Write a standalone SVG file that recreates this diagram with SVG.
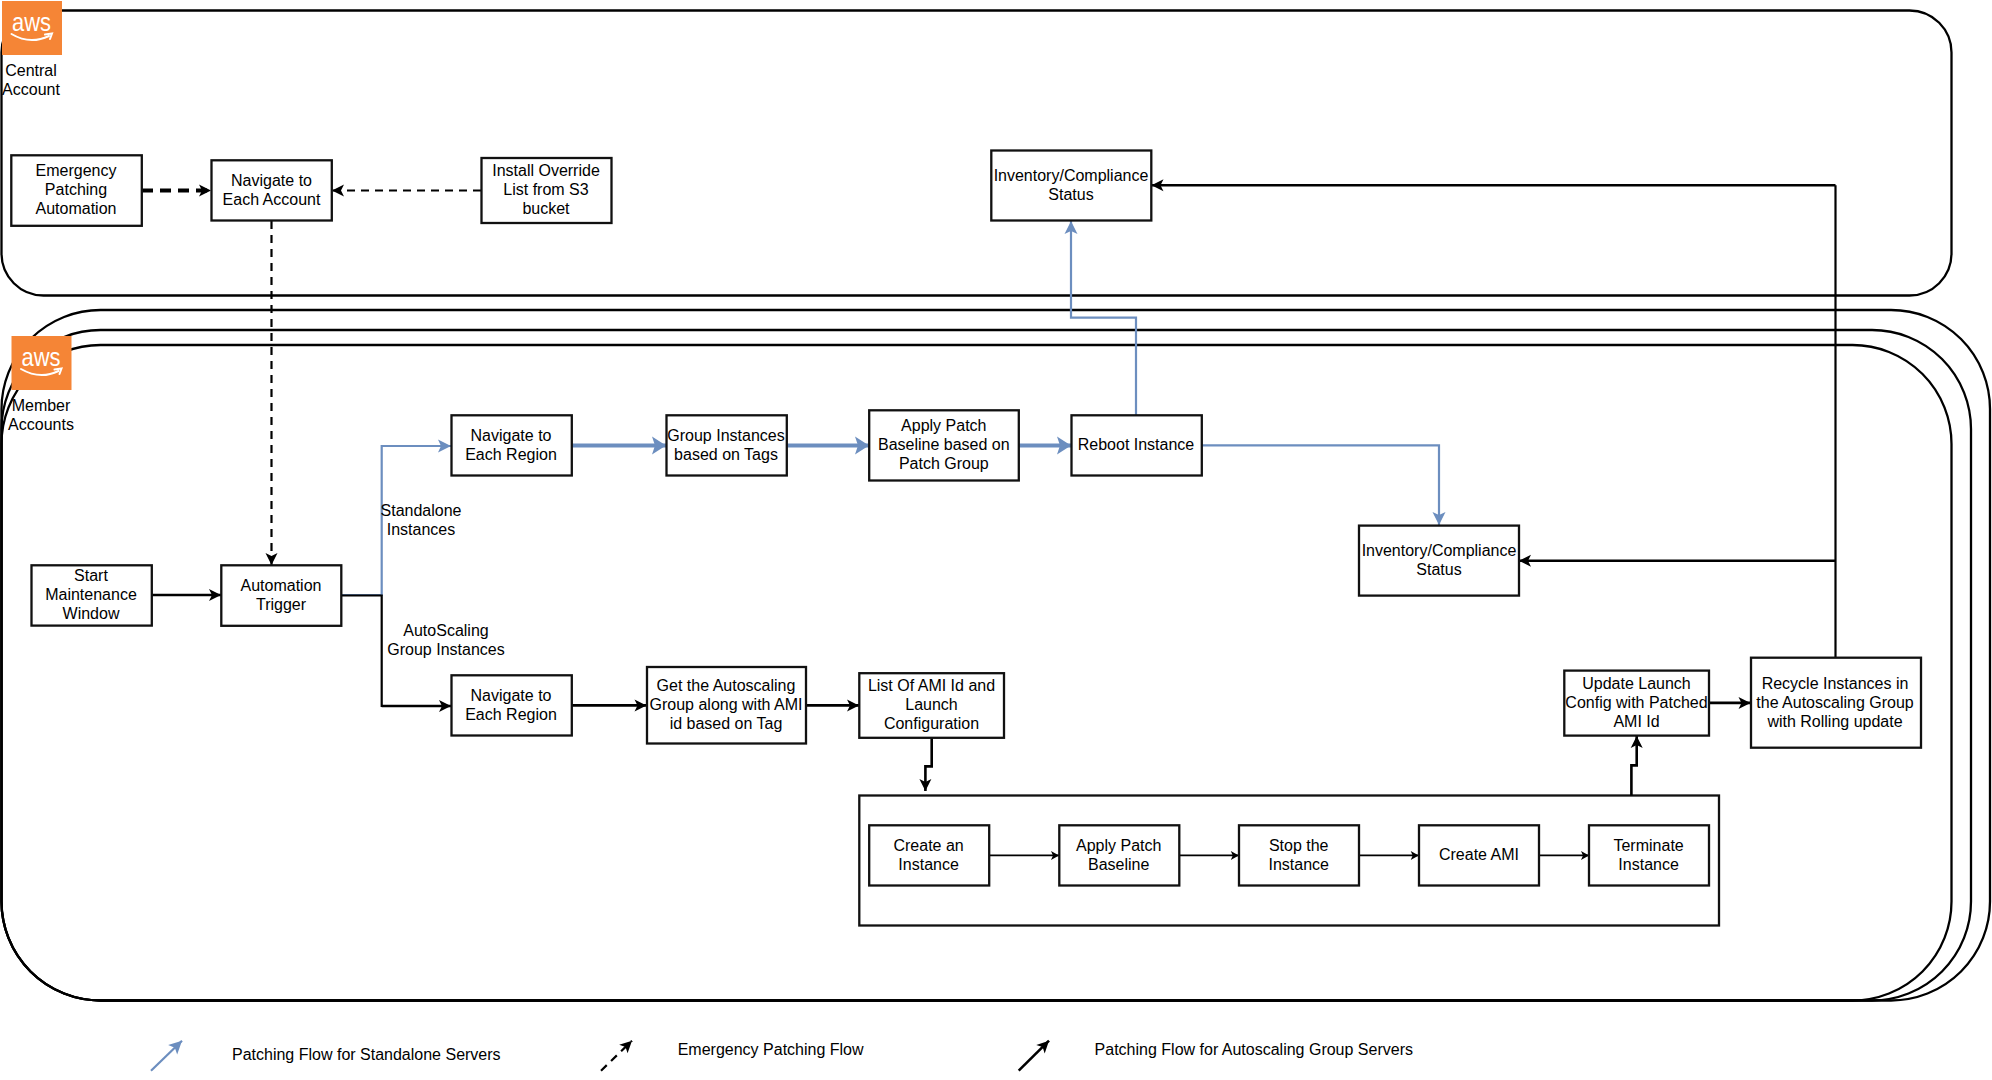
<svg xmlns="http://www.w3.org/2000/svg" width="1992" height="1080" viewBox="0 0 1992 1080">
<style>
text{font-family:"Liberation Sans",Arial,sans-serif;font-size:16px;fill:#000;text-anchor:middle}
text.l{text-anchor:start}
.b{fill:#fff;stroke:#111;stroke-width:2.3}
.c{fill:none;stroke:#000;stroke-width:2.2}
.acct{fill:none;stroke:#000;stroke-width:2.3}
.k{fill:none;stroke:#000;stroke-width:2.6;marker-end:url(#ak)}
.t{fill:none;stroke:#000;stroke-width:1.6;marker-end:url(#as)}
.n{fill:none;stroke:#6c8ebf;stroke-width:2.2;marker-end:url(#ab)}
.n0{fill:none;stroke:#6c8ebf;stroke-width:2.2}
.w{fill:none;stroke:#6c8ebf;stroke-width:4;marker-end:url(#aw)}
.d{fill:none;stroke:#000;stroke-width:2.2;stroke-dasharray:8 6;marker-end:url(#ak)}
.dt{fill:none;stroke:#000;stroke-width:4;stroke-dasharray:11 7;marker-end:url(#ak)}
.logo{fill:#f58536}
.aws{fill:#fff;font-size:26px}
.sm{fill:none;stroke:#fff;stroke-width:2;stroke-linecap:round}
</style>
<defs>
<marker id="ak" markerUnits="userSpaceOnUse" markerWidth="16" markerHeight="16" refX="14" refY="8" orient="auto"><path d="M2 2 L14 8 L2 14 L5 8Z" fill="#000"/></marker>
<marker id="as" markerUnits="userSpaceOnUse" markerWidth="10" markerHeight="10" refX="9" refY="5" orient="auto"><path d="M1 0.5 L9 5 L1 9.500 L3 5Z" fill="#000"/></marker>
<marker id="ab" markerUnits="userSpaceOnUse" markerWidth="16" markerHeight="16" refX="14" refY="8" orient="auto"><path d="M1 1.500 L14 8 L1 14.500 L4 8Z" fill="#6c8ebf"/></marker>
<marker id="aw" markerUnits="userSpaceOnUse" markerWidth="18" markerHeight="20" refX="15" refY="10" orient="auto"><path d="M1 1 L15 10 L1 19 L4 10Z" fill="#6c8ebf"/></marker>
</defs>
<g id="containers">
<rect id="central-account" class="acct" x="1.500" y="10.500" width="1950" height="285" rx="42" ry="42"/>
<rect id="member-account-3" class="acct" x="1.500" y="310" width="1988.500" height="690.500" rx="99" ry="99"/>
<rect id="member-account-2" class="acct" x="1.500" y="330" width="1969.500" height="670.500" rx="99" ry="99"/>
<rect id="member-account-1" class="acct" x="1.500" y="345" width="1950" height="655.500" rx="99" ry="99"/>
<rect id="ami-container" class="b" x="859.300" y="795.500" width="859.700" height="130"/>
</g>
<g id="connectors">
<path class="dt" d="M142 190.500H211"/>
<path class="d" d="M481 190.500H332"/>
<path class="d" d="M271.500 221V565"/>
<path class="k" d="M152 595H221"/>
<path class="n0" d="M341.500 595H381.700V446H440"/>
<path class="n" d="M381.700 446H451"/>
<path class="c" d="M341.500 595.500H381.700V706H445"/>
<path class="k" d="M381.700 706H451"/>
<path class="w" d="M572 445.400H666"/>
<path class="w" d="M787 445.400H869"/>
<path class="w" d="M1019 445.400H1071"/>
<path class="n" d="M1202 445.400H1439V525"/>
<path class="n" d="M1136 415V317.700H1071V221"/>
<path class="k" d="M572 705.400H646.500"/>
<path class="k" d="M806 705.400H859"/>
<path class="k" d="M931.700 738V766.400H925.400V791"/>
<path class="k" d="M1631.400 795.500V765.400H1636.700V736"/>
<path class="k" d="M1709 702.900H1750.500"/>
<path class="c" d="M1835.500 657.500V185.300"/>
<path class="k" d="M1835.500 185.300H1151.500"/>
<path class="k" d="M1835.500 560.700H1519"/>
<path class="t" d="M989.300 855.400H1059"/>
<path class="t" d="M1179.500 855.400H1238.800"/>
<path class="t" d="M1359 855.400H1418.700"/>
<path class="t" d="M1539 855.400H1589"/>
<path class="n" d="M151 1070.700L182 1040.700"/>
<path class="d" d="M601 1070.700L632 1040.700"/>
<path class="k" d="M1018.700 1070.700L1049 1040.700"/>
</g>
<g id="logo-central">
<rect class="logo" x="2" y="1" width="60" height="54"/>
<text class="aws" x="31.500" y="31" textLength="39" lengthAdjust="spacingAndGlyphs">aws</text>
<path class="sm" d="M11.500 34Q30 45 49 36"/>
<path class="sm" d="M45 34.500L52 33.500L50 39"/>
</g>
<g id="logo-member">
<rect class="logo" x="11.500" y="336" width="60" height="54"/>
<text class="aws" x="41" y="366" textLength="39" lengthAdjust="spacingAndGlyphs">aws</text>
<path class="sm" d="M21 369Q40 380 58.500 371"/>
<path class="sm" d="M54.500 369.500L61.500 368.500L59.500 374"/>
</g>
<g id="label-central"><text x="31" y="75.500">Central</text><text x="31" y="94.500">Account</text></g>
<g id="label-member"><text x="41" y="411">Member</text><text x="41" y="430">Accounts</text></g>
<g id="emergency"><rect class="b" x="11.300" y="155.300" width="130.500" height="70.500"/><text x="76" y="176">Emergency</text><text x="76" y="195">Patching</text><text x="76" y="214">Automation</text></g>
<g id="navigate-account"><rect class="b" x="211.500" y="160.300" width="120.300" height="60.200"/><text x="271.500" y="186">Navigate to</text><text x="271.500" y="205">Each Account</text></g>
<g id="install-override"><rect class="b" x="481.500" y="158" width="130" height="65"/><text x="546" y="176">Install Override</text><text x="546" y="195">List from S3</text><text x="546" y="214">bucket</text></g>
<g id="inventory-central"><rect class="b" x="991.300" y="150.500" width="160" height="70"/><text x="1071" y="181">Inventory/Compliance</text><text x="1071" y="200">Status</text></g>
<g id="start-window"><rect class="b" x="31.500" y="565.300" width="120.300" height="60.300"/><text x="91" y="580.500">Start</text><text x="91" y="599.500">Maintenance</text><text x="91" y="618.500">Window</text></g>
<g id="automation-trigger"><rect class="b" x="221.300" y="565.300" width="120" height="60.500"/><text x="281" y="590.500">Automation</text><text x="281" y="609.500">Trigger</text></g>
<g id="label-standalone"><text x="421" y="516">Standalone</text><text x="421" y="535">Instances</text></g>
<g id="label-autoscaling"><text x="446" y="636">AutoScaling</text><text x="446" y="655">Group Instances</text></g>
<g id="navigate-region-1"><rect class="b" x="451.500" y="415.300" width="120.300" height="60.200"/><text x="511" y="440.500">Navigate to</text><text x="511" y="459.500">Each Region</text></g>
<g id="group-instances"><rect class="b" x="666.500" y="415.300" width="120.300" height="60.200"/><text x="726" y="440.500">Group Instances</text><text x="726" y="459.500">based on Tags</text></g>
<g id="apply-patch-group"><rect class="b" x="869.200" y="410.300" width="149.600" height="70.200"/><text x="943.800" y="431">Apply Patch</text><text x="943.800" y="450">Baseline based on</text><text x="943.800" y="469">Patch Group</text></g>
<g id="reboot"><rect class="b" x="1071.500" y="415.300" width="130.300" height="60.200"/><text x="1136" y="450">Reboot Instance</text></g>
<g id="inventory-member"><rect class="b" x="1359" y="525.600" width="160" height="70"/><text x="1439" y="556">Inventory/Compliance</text><text x="1439" y="575">Status</text></g>
<g id="navigate-region-2"><rect class="b" x="451.500" y="675.300" width="120.300" height="60.200"/><text x="511" y="701">Navigate to</text><text x="511" y="720">Each Region</text></g>
<g id="get-asg"><rect class="b" x="647" y="667" width="159" height="76.500"/><text x="726" y="691">Get the Autoscaling</text><text x="726" y="710">Group along with AMI</text><text x="726" y="729">id based on Tag</text></g>
<g id="list-ami"><rect class="b" x="859.300" y="673.200" width="144.700" height="64.600"/><text x="931.500" y="691">List Of AMI Id and</text><text x="931.500" y="710">Launch</text><text x="931.500" y="729">Configuration</text></g>
<g id="update-launch"><rect class="b" x="1564.300" y="670.600" width="144.700" height="65"/><text x="1636.500" y="689">Update Launch</text><text x="1636.500" y="708">Config with Patched</text><text x="1636.500" y="727">AMI Id</text></g>
<g id="recycle"><rect class="b" x="1751" y="657.700" width="170" height="90"/><text x="1835" y="689">Recycle Instances in</text><text x="1835" y="708">the Autoscaling Group</text><text x="1835" y="727">with Rolling update</text></g>
<g id="create-instance"><rect class="b" x="869.200" y="825.300" width="120" height="60.200"/><text x="928.600" y="851">Create an</text><text x="928.600" y="870">Instance</text></g>
<g id="apply-baseline"><rect class="b" x="1059.300" y="825.300" width="120" height="60.200"/><text x="1118.700" y="851">Apply Patch</text><text x="1118.700" y="870">Baseline</text></g>
<g id="stop-instance"><rect class="b" x="1239" y="825.300" width="120" height="60.200"/><text x="1298.700" y="851">Stop the</text><text x="1298.700" y="870">Instance</text></g>
<g id="create-ami"><rect class="b" x="1419" y="825.300" width="120" height="60.200"/><text x="1479" y="860">Create AMI</text></g>
<g id="terminate"><rect class="b" x="1589" y="825.300" width="120" height="60.200"/><text x="1648.600" y="851">Terminate</text><text x="1648.600" y="870">Instance</text></g>
<g id="legend">
<text class="l" x="232" y="1059.500">Patching Flow for Standalone Servers</text>
<text class="l" x="677.700" y="1054.500">Emergency Patching Flow</text>
<text class="l" x="1094.600" y="1054.500">Patching Flow for Autoscaling Group Servers</text>
</g>
</svg>
